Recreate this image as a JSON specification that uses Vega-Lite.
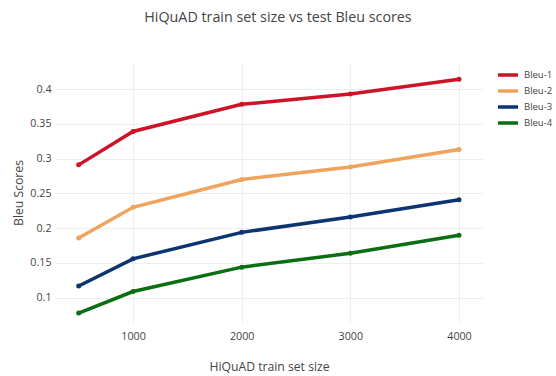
{
  "$schema": "https://vega.github.io/schema/vega-lite/v6.json",
  "width": 428,
  "height": 259,
  "autosize": "none",
  "padding": {"left": 55, "top": 63, "right": 73, "bottom": 54},
  "background": "white",
  "title": {
    "text": "HiQuAD train set size vs test Bleu scores",
    "font": "Open Sans",
    "fontSize": 14.3,
    "fontWeight": "normal",
    "color": "#444",
    "anchor": "middle",
    "dx": 9,
    "offset": 38
  },
  "config": {
    "view": {"stroke": null},
    "font": "Open Sans",
    "axis": {
      "domain": false,
      "ticks": false,
      "gridColor": "#eeeeee",
      "gridWidth": 1,
      "labelFont": "Open Sans",
      "labelFontSize": 10.7,
      "labelColor": "#444",
      "titleFont": "Open Sans",
      "titleFontSize": 12.2,
      "titleFontWeight": "normal",
      "titleColor": "#444"
    }
  },
  "data": {
    "values": [
      {"size": 500, "score": 0.291, "metric": "Bleu-1"},
      {"size": 1000, "score": 0.339, "metric": "Bleu-1"},
      {"size": 2000, "score": 0.378, "metric": "Bleu-1"},
      {"size": 3000, "score": 0.393, "metric": "Bleu-1"},
      {"size": 4000, "score": 0.414, "metric": "Bleu-1"},
      {"size": 500, "score": 0.186, "metric": "Bleu-2"},
      {"size": 1000, "score": 0.230, "metric": "Bleu-2"},
      {"size": 2000, "score": 0.270, "metric": "Bleu-2"},
      {"size": 3000, "score": 0.288, "metric": "Bleu-2"},
      {"size": 4000, "score": 0.313, "metric": "Bleu-2"},
      {"size": 500, "score": 0.117, "metric": "Bleu-3"},
      {"size": 1000, "score": 0.156, "metric": "Bleu-3"},
      {"size": 2000, "score": 0.194, "metric": "Bleu-3"},
      {"size": 3000, "score": 0.216, "metric": "Bleu-3"},
      {"size": 4000, "score": 0.241, "metric": "Bleu-3"},
      {"size": 500, "score": 0.078, "metric": "Bleu-4"},
      {"size": 1000, "score": 0.109, "metric": "Bleu-4"},
      {"size": 2000, "score": 0.144, "metric": "Bleu-4"},
      {"size": 3000, "score": 0.164, "metric": "Bleu-4"},
      {"size": 4000, "score": 0.190, "metric": "Bleu-4"}
    ]
  },
  "mark": {"type": "line", "strokeWidth": 3.5, "point": {"size": 25, "filled": true}},
  "encoding": {
    "x": {
      "field": "size",
      "type": "quantitative",
      "title": "HiQuAD train set size",
      "scale": {"domain": [282, 4221], "nice": false, "zero": false},
      "axis": {"values": [1000, 2000, 3000, 4000], "format": "d", "labelPadding": 9, "titlePadding": 20}
    },
    "y": {
      "field": "score",
      "type": "quantitative",
      "title": "Bleu Scores",
      "scale": {"domain": [0.0652, 0.4374], "nice": false, "zero": false},
      "axis": {"values": [0.1, 0.15, 0.2, 0.25, 0.3, 0.35, 0.4], "format": "~f", "labelPadding": 4, "titlePadding": 4}
    },
    "color": {
      "field": "metric",
      "type": "nominal",
      "scale": {
        "domain": ["Bleu-1", "Bleu-2", "Bleu-3", "Bleu-4"],
        "range": ["#cc1426", "#f0a35c", "#0c3470", "#0a6e12"]
      },
      "legend": {
        "title": null,
        "orient": "none",
        "legendX": 441,
        "legendY": 6,
        "symbolType": "stroke",
        "symbolSize": 400,
        "symbolStrokeWidth": 3.5,
        "clipHeight": 12,
        "labelFont": "Open Sans",
        "labelFontSize": 9.5,
        "labelColor": "#444",
        "rowPadding": 4,
        "labelOffset": 4
      }
    }
  }
}
